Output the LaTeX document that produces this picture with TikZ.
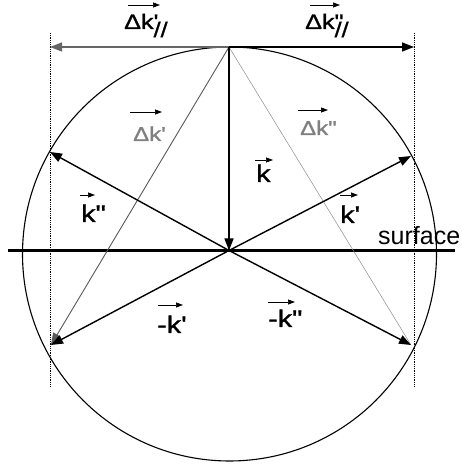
\documentclass[tikz,border=0pt]{standalone}
\usepackage{fontspec}
\setmainfont{Liberation Sans}[Ligatures=TeXOff]
\newfontfamily\widefont{Liberation Sans}[FakeStretch=1.2, FakeBold=1.2, Ligatures=TeXOff]
\usetikzlibrary{arrows.meta}

\begin{document}
\begin{tikzpicture}[x=1pt, y=1pt, >={Triangle[length=12pt,width=9pt]},
  font=\fontsize{24}{24}\selectfont,
  vec/.style={->, line width=1.4pt},
  lbl/.style={inner sep=0pt, anchor=base west, font=\widefont\fontsize{24}{24}\selectfont},
  dlbl/.style={lbl, font=\widefont\fontsize{20}{20}\selectfont},
  plbl/.style={lbl, font=\widefont\fontsize{21}{21}\selectfont},
  small/.style={-{Triangle[length=7pt,width=5pt]}, line width=0.7pt},
  guide/.style={densely dotted, line width=0.8pt}]
  \useasboundingbox (0,0) rectangle (461,469);
  % Punkte
  \coordinate (O) at (229,218.5);
  \coordinate (T) at (229,422);
  \coordinate (C) at (229.5,215);
  \coordinate (K1) at (411,313);
  \coordinate (K2) at (50,317);
  \coordinate (M1) at (51,124);
  \coordinate (M2) at (411,124);
  \coordinate (L) at (50,422);
  \coordinate (R) at (414,422);
  \coordinate (S1) at (8,218.5);
  \coordinate (S2) at (455,218.5);
  % Kreis, Oberflaeche, Hilfslinien
  \draw[line width=1.1pt] (C) circle (207pt);
  \draw[guide] (50,436) -- (50,82);
  \draw[guide] (414,436) -- (414,82);
  \draw[line width=2.2pt] (S1) -- (S2);
  % Differenzvektoren
  \draw[->, black!65, line width=0.9pt] (T) -- (M1);
  \draw[black!45, line width=0.5pt] (T) -- (M2);
  \draw[->, black!60, line width=1.4pt] (T) -- (L);
  \draw[vec] (T) -- (R);
  % Wellenvektoren
  \draw[vec] (T) -- (O);
  \draw[vec] (O) -- (K1);
  \draw[vec] (O) -- (K2);
  \draw[vec] (O) -- (M1);
  \draw[vec] (O) -- (M2);
  % Beschriftung
  \node[lbl] (lk) at (256,287) {k};
  \node[lbl] (lk1) at (340,246) {k'};
  \node[lbl] (lk2) at (81,247) {k"};
  \node[lbl] (lm1) at (157,136) {-k'};
  \node[lbl] (lm2) at (268,142) {-k"};
  \node[dlbl, black!50] (ld1) at (133,328) {Δk'};
  \node[dlbl, black!50] (ld2) at (300,334) {Δk"};
  \node[plbl] (lp1) at (124,440) {Δk\rlap{'}\raisebox{-8pt}{//}};
  \node[plbl] (lp2) at (305,440) {Δk\rlap{"}\raisebox{-8pt}{//}};
  \node[lbl, font=\fontsize{25}{25}\selectfont] (ls) at (378,224) {surface};
  \foreach \n/\a/\b/\h in {lk/-1/17/22, lk1/0/18/28, lk2/-1/14/27, lm1/1/26/28,
      lm2/0/27/25, ld1/-3/29/29, ld2/-2/28/25, lp1/4/36/24, lp2/5/35/24}{
    \draw[small] ([shift={(\a,\h)}]\n.base west) -- ([shift={(\b,\h)}]\n.base west);
  }
\end{tikzpicture}
\end{document}
